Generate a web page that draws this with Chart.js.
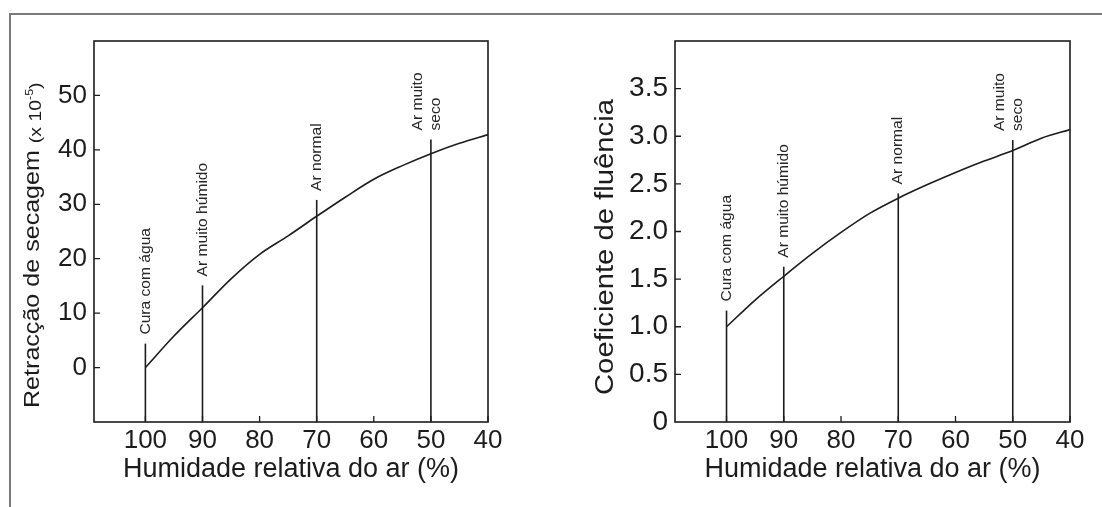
<!DOCTYPE html>
<html>
<head>
<meta charset="UTF-8" />
<title>Retracção e fluência</title>
<script src="https://cdn.jsdelivr.net/npm/chart.js"></script>
<style>
  html, body { margin: 0; padding: 0; background: #fff; }
  #page { position: relative; width: 1102px; height: 507px; overflow: hidden; background: #fff; }
  #frame { position: absolute; left: 9px; top: 13px; width: 1200px; height: 600px;
           border-top: 2px solid #7a7a7a; border-left: 2px solid #7a7a7a; }
  .box { position: absolute; top: 0; width: 551px; height: 507px; }
</style>
</head>
<body>
<div id="page">
  <div id="frame"></div>
  <div class="box" style="left:0"><canvas id="shrinkChart"></canvas></div>
  <div class="box" style="left:551px"><canvas id="creepChart"></canvas></div>
</div>

<script>
  // humidade relativa do ar (%)
  const humidity = [100, 95, 90, 85, 80, 75, 70, 65, 60, 55, 50, 45, 40];
  // retracção de secagem (x10^-5)
  const shrinkage = [0, 5.8, 11, 16.3, 20.8, 24.2, 27.8, 31.3, 34.6, 37.1, 39.3, 41.2, 42.8];
  // coeficiente de fluência
  const creep = [1.0, 1.28, 1.53, 1.77, 1.99, 2.19, 2.35, 2.49, 2.62, 2.74, 2.85, 2.98, 3.07];

  const xTicks = [100, 90, 80, 70, 60, 50, 40];
  const shrinkTicks = [0, 10, 20, 30, 40, 50];
  const creepTicks = [0, 0.5, 1, 1.5, 2, 2.5, 3, 3.5];

  // linhas verticais das condições de cura
  const markerX = [100, 90, 70, 50];
  const markerLabels = [['Cura com água'], ['Ar muito húmido'], ['Ar normal'], ['Ar muito', 'seco']];
  const shrinkMarkerTop = [4.4, 15.1, 30.8, 41.9];
  const creepMarkerTop = [1.17, 1.63, 2.40, 2.96];

  const FONT = "'Liberation Sans', Arial, sans-serif";
  const INK = '#1c1c1c';

  // caixa do gráfico e traços dos ticks para dentro
  function boxPlugin(yTicks) {
    return {
      id: 'boxPlugin',
      afterDatasetsDraw(chart) {
        const ctx = chart.ctx;
        const a = chart.chartArea;
        const xs = chart.scales.x;
        const ys = chart.scales.y;
        ctx.save();
        ctx.strokeStyle = INK;
        ctx.lineWidth = 1.6;
        ctx.strokeRect(a.left, a.top, a.right - a.left, a.bottom - a.top);
        ctx.lineWidth = 1.3;
        ctx.beginPath();
        xTicks.forEach(v => {
          const px = xs.getPixelForValue(v);
          ctx.moveTo(px, a.bottom);
          ctx.lineTo(px, a.bottom - 6);
        });
        yTicks.forEach(v => {
          if (v === ys.min) return;
          const py = ys.getPixelForValue(v);
          ctx.moveTo(a.left, py);
          ctx.lineTo(a.left + 6, py);
        });
        ctx.stroke();
        ctx.restore();
      }
    };
  }

  // textos verticais: título do eixo y e legendas das linhas
  function textPlugin(cfg) {
    return {
      id: 'textPlugin',
      afterDraw(chart) {
        const ctx = chart.ctx;
        const a = chart.chartArea;
        const xs = chart.scales.x;
        const ys = chart.scales.y;
        ctx.save();
        ctx.fillStyle = INK;

        // título do eixo y
        ctx.save();
        ctx.translate(a.left - cfg.titleDx, a.bottom - cfg.titleDy);
        ctx.rotate(-Math.PI / 2);
        ctx.scale(cfg.titleStretch, 1);
        ctx.textBaseline = 'alphabetic';
        ctx.textAlign = 'left';
        let cursor = 0;
        cfg.titleParts.forEach(p => {
          ctx.font = p.size + 'px ' + FONT;
          ctx.fillText(p.text, cursor, p.shift || 0);
          cursor += ctx.measureText(p.text).width;
        });
        ctx.restore();

        // legendas das linhas verticais
        ctx.font = '15px ' + FONT;
        ctx.fillStyle = '#262626';
        markerX.forEach((v, i) => {
          const px = xs.getPixelForValue(v);
          const py = ys.getPixelForValue(cfg.markerTop[i]);
          const lines = markerLabels[i];
          ctx.save();
          ctx.translate(px, py - 9);
          ctx.rotate(-Math.PI / 2);
          ctx.scale(1.04, 1);
          ctx.textAlign = 'left';
          ctx.textBaseline = 'middle';
          lines.forEach((t, j) => {
            const off = lines.length > 1 ? (j - (lines.length - 1) / 2) * 18 - 4 : 0;
            ctx.fillText(t, 0, off);
          });
          ctx.restore();
        });
        ctx.restore();
      }
    };
  }

  function makeChart(canvasId, values, markerTop, yMin, yMax, yTicks, yFont, yFormat, areaLeft, padRight, title) {
    const curve = humidity.map((h, i) => ({ x: h, y: values[i] }));
    const markers = markerX.map((h, i) => ({
      data: [{ x: h, y: yMin }, { x: h, y: markerTop[i] }],
      showLine: true,
      borderColor: INK,
      borderWidth: 1.6,
      pointRadius: 0
    }));

    return new Chart(document.getElementById(canvasId), {
      type: 'scatter',
      data: {
        datasets: [{
          data: curve,
          showLine: true,
          borderColor: INK,
          borderWidth: 1.6,
          pointRadius: 0,
          tension: 0.4,
          cubicInterpolationMode: 'monotone'
        }].concat(markers)
      },
      options: {
        responsive: true,
        maintainAspectRatio: false,
        animation: false,
        layout: { padding: { left: 0, right: padRight, top: 41, bottom: 0 } },
        plugins: {
          legend: { display: false },
          tooltip: { enabled: false }
        },
        scales: {
          x: {
            type: 'linear',
            reverse: true,
            min: 40,
            max: 109,
            grid: { display: false, drawTicks: false },
            border: { display: false },
            afterBuildTicks: s => { s.ticks = xTicks.map(v => ({ value: v })); },
            afterFit: s => { s.height = 85; s.paddingLeft = 0; s.paddingRight = 0; },
            ticks: { color: INK, font: { family: FONT, size: 26 }, padding: 3, maxRotation: 0 },
            title: {
              display: true,
              text: 'Humidade relativa do ar (%)',
              color: INK,
              font: { family: FONT, size: 27 },
              padding: { top: 0, bottom: 21 }
            }
          },
          y: {
            type: 'linear',
            min: yMin,
            max: yMax,
            grid: { display: false, drawTicks: false },
            border: { display: false },
            afterBuildTicks: s => { s.ticks = yTicks.map(v => ({ value: v })); },
            afterFit: s => { s.width = areaLeft; s.paddingTop = 0; s.paddingBottom = 0; },
            ticks: { color: INK, font: { family: FONT, size: yFont }, padding: 7, callback: yFormat }
          }
        }
      },
      plugins: [boxPlugin(yTicks), textPlugin(title)]
    });
  }

  makeChart('shrinkChart', shrinkage, shrinkMarkerTop, -10, 60, shrinkTicks, 26,
    v => String(v), 94, 63,
    {
      markerTop: shrinkMarkerTop,
      titleDx: 55, titleDy: 14, titleStretch: 1.14,
      titleParts: [
        { text: 'Retracção de secagem ', size: 22 },
        { text: '(x 10', size: 17, shift: 2 },
        { text: '-5', size: 11, shift: -6 },
        { text: ')', size: 17, shift: 2 }
      ]
    });

  makeChart('creepChart', creep, creepMarkerTop, 0, 4, creepTicks, 28,
    v => (v === 0 ? '0' : v.toFixed(1)), 124, 32,
    {
      markerTop: creepMarkerTop,
      titleDx: 62, titleDy: 27, titleStretch: 1.17,
      titleParts: [{ text: 'Coeficiente de fluência', size: 25 }]
    });
</script>
</body>
</html>
